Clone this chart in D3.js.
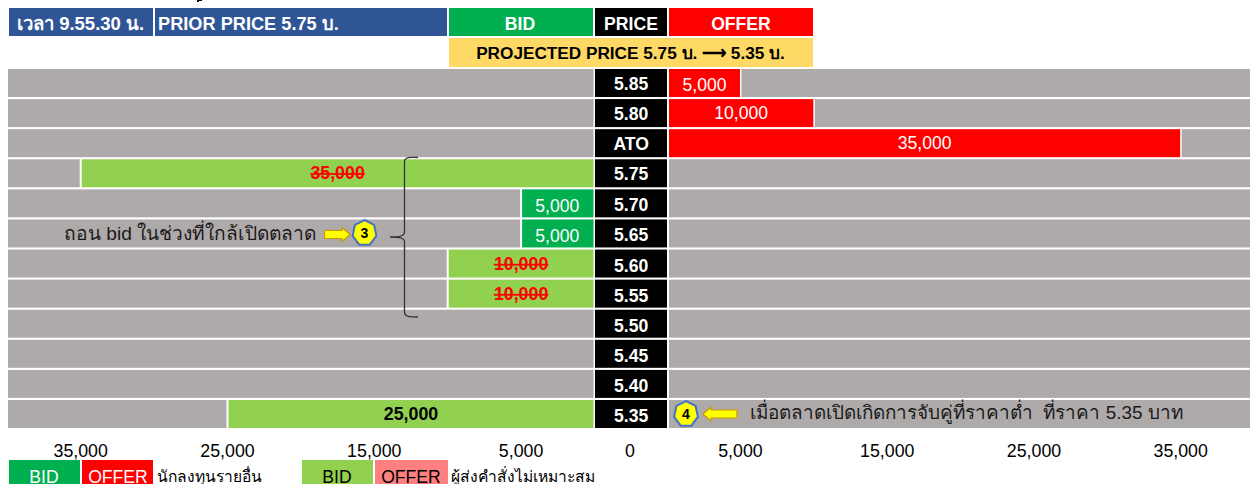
<!DOCTYPE html>
<html><head><meta charset="utf-8">
<script src="https://cdn.jsdelivr.net/npm/d3@7/dist/d3.min.js"></script>
<style>html,body{margin:0;padding:0;background:#fff;overflow:hidden}svg{display:block}text{font-family:"Liberation Sans",Arial,sans-serif;white-space:pre}</style>
</head><body><svg id="c" width="1250" height="484"></svg>
<script>
const priceLabels=["5.85","5.80","ATO","5.75","5.70","5.65","5.60","5.55","5.50","5.45","5.40","5.35"];
const bidValues=[0,0,0,35000,5000,5000,10000,10000,0,0,0,25000];
const bidKinds=["","","","bad","normal","normal","bad","bad","","","","matched"];
const offerValues=[5000,10000,35000,0,0,0,0,0,0,0,0,0];
const leftTicks=[35000,25000,15000,5000];
const rightTicks=[5000,15000,25000,35000];
const C={gray:"#AEAAAA",green:"#00B050",lgreen:"#92D050",red:"#FF0000",pink:"#FF8080",blue:"#2F5597",gold:"#FFD966"};
const svg=d3.select("#c");
const fmt=d3.format(",");
const y=d3.scaleBand().domain(priceLabels).range([69,428]).paddingInner(0.07);
const xL=d3.scaleLinear().domain([0,35000]).range([595.5,81.7]);
const xR=d3.scaleLinear().domain([0,35000]).range([666.6,1180.2]);
const rows=priceLabels.map((p,i)=>({p,i,bid:bidValues[i],kind:bidKinds[i],offer:offerValues[i]}));
const T=(x,yy,s,o={})=>svg.append("text").attr("x",x).attr("y",yy).text(s)
 .attr("text-anchor",o.a||"middle").attr("font-size",o.fs||17.6).attr("font-weight",o.w||"normal").attr("fill",o.f||"#000")
 .attr("text-decoration",o.d||null).attr("dominant-baseline","central");
const R=(x,yy,w,h,f)=>svg.append("rect").attr("x",x).attr("y",yy).attr("width",w).attr("height",h).attr("fill",f);

// header
R(9,8,144,28,C.blue);R(155,8,292,28,C.blue);R(449,8,144,28,C.green);R(595,8,72,28,"#000");R(669,8,144,28,C.red);
R(449,38,364,29,C.gold);
T(17,23.5,"เวลา 9.55.30 น.",{a:"start",w:"bold",f:"#fff",fs:18.5});
T(158,23.5,"PRIOR PRICE 5.75 บ.",{a:"start",w:"bold",f:"#fff",fs:18.2});
T(520,24,"BID",{w:"bold",f:"#fff"});T(631,24,"PRICE",{w:"bold",f:"#fff"});T(741,24,"OFFER",{w:"bold",f:"#fff"});
T(630.5,53,"PROJECTED PRICE 5.75 บ. ⟶ 5.35 บ.",{w:"bold",fs:17.2});
R(197,0,5,1,"#000");R(197,0,2,2,"#000");

// rows
const g=svg.append("g");
g.selectAll(".lg").data(rows).join("rect").attr("x",8)
 .attr("y",d=>y(d.p)).attr("height",y.bandwidth()).attr("width",d=>(d.bid?xL(d.bid)-2:593.5)-8).attr("fill",C.gray);
g.selectAll(".lb").data(rows.filter(d=>d.bid)).join("rect").attr("x",d=>xL(d.bid))
 .attr("y",d=>y(d.p)).attr("height",y.bandwidth()).attr("width",d=>593.5-xL(d.bid)).attr("fill",d=>d.kind==="normal"?C.green:C.lgreen);
g.selectAll(".rg").data(rows).join("rect").attr("x",d=>d.offer?xR(d.offer)+1.5:669)
 .attr("y",d=>y(d.p)).attr("height",y.bandwidth()).attr("width",d=>1250-(d.offer?xR(d.offer)+1.5:669)).attr("fill",C.gray);
g.selectAll(".rb").data(rows.filter(d=>d.offer)).join("rect").attr("x",669)
 .attr("y",d=>y(d.p)).attr("height",y.bandwidth()).attr("width",d=>xR(d.offer)-669).attr("fill",C.red);
g.selectAll(".pc").data(rows).join("rect").attr("x",595).attr("width",72)
 .attr("y",d=>y(d.p)).attr("height",y.bandwidth()).attr("fill","#000");
g.selectAll(".pt").data(rows).join("text").attr("x",631.2).attr("y",d=>y(d.p)+y.bandwidth()/2+(d.i<3?1:d.i===3?0.5:2))
 .attr("text-anchor","middle").attr("dominant-baseline","central").attr("font-size",17.6).attr("font-weight","bold").attr("fill","#fff").text(d=>d.p);
rows.filter(d=>d.bid).forEach(d=>{
 const cx=(xL(d.bid)+593.5)/2, cy=y(d.p)+y.bandwidth()/2;
 if(d.kind==="normal") T(cx-0.5,cy+3,fmt(d.bid),{f:"#fff"});
 else if(d.kind==="bad") T(cx,cy+(d.i===3?0:0.5),fmt(d.bid),{f:C.red,w:"bold",fs:17.8,d:"line-through"});
 else T(cx,cy,fmt(d.bid),{w:"bold",fs:17.8});
});
rows.filter(d=>d.offer).forEach(d=>T((xR(d.offer)+669)/2,y(d.p)+y.bandwidth()/2+(d.offer===5000?2:0),fmt(d.offer),{f:"#fff"}));

// axes
const clean=(a,dx)=>{a.select(".domain").remove();a.selectAll("line").remove();
 a.selectAll("text").attr("font-size",17.8).attr("font-family",'"Liberation Sans",Arial,sans-serif').attr("fill","#000").attr("y",0).attr("dx",dx).attr("dy","0.35em");};
svg.append("g").attr("transform","translate(0,451)").call(d3.axisBottom(xL).tickValues(leftTicks).tickFormat(fmt)).call(clean,-1.5);
svg.append("g").attr("transform","translate(0,451)").call(d3.axisBottom(xR).tickValues(rightTicks).tickFormat(fmt)).call(clean,0);
T(630,451,"0",{fs:17.8});

// legend
R(9,460,71,24,C.green);R(82,460,71,24,C.red);R(302,460,71,24,C.lgreen);R(375,460,73,24,C.pink);
T(44,477,"BID",{f:"#fff"});T(118,477,"OFFER",{f:"#fff"});T(337,477,"BID");T(411,477,"OFFER");
T(157,476,"นักลงทุนรายอื่น",{a:"start",fs:15.6});T(451,476,"ผู้ส่งคำสั่งไม่เหมาะสม",{a:"start",fs:15.6});

// annotations
T(64,233,"ถอน bid ในช่วงที่ใกล้เปิดตลาด",{a:"start",fs:19.2,f:"#1a1a1a"});
T(750,412,"เมื่อตลาดเปิดเกิดการจับคู่ที่ราคาต่ำ  ที่ราคา 5.35 บาท",{a:"start",fs:18.9,f:"#1a1a1a"});
svg.append("path").attr("d","M418,157.5 C410,157 404.5,157 404.5,162 L404.5,232 C404.5,236 400,237 390,237 C400,237 404.5,238 404.5,242 L404.5,312 C404.5,317 410,317 418,317")
 .attr("fill","none").attr("stroke","#333").attr("stroke-width",1.3);
const arrow=(x0,cy,dir,L,s,h,hw)=>{const X=v=>x0+dir*v;
 svg.append("path").attr("d",`M${X(0)},${cy-s}L${X(L-h)},${cy-s}L${X(L-h)},${cy-hw}L${X(L)},${cy}L${X(L-h)},${cy+hw}L${X(L-h)},${cy+s}L${X(0)},${cy+s}Z`)
 .attr("fill","#FFFF00").attr("stroke","#C99A00").attr("stroke-width",1.2);};
arrow(324.5,234.5,1,25.5,4,8,7);arrow(737,414,-1,34,4,8,7);
const hept=(cx,cy,s)=>{const r=13,pts=d3.range(7).map(i=>{const a=-Math.PI/2+i*2*Math.PI/7;return[cx+r*.94*Math.cos(a),cy+r*Math.sin(a)];});
 svg.append("polygon").attr("points",pts.join(" ")).attr("fill","#FFFF00").attr("stroke","#4472C4").attr("stroke-width",2);
 T(cx,cy,s,{w:"bold",fs:14});};
hept(364.5,233,"3");hept(686,414,"4");
</script></body></html>
